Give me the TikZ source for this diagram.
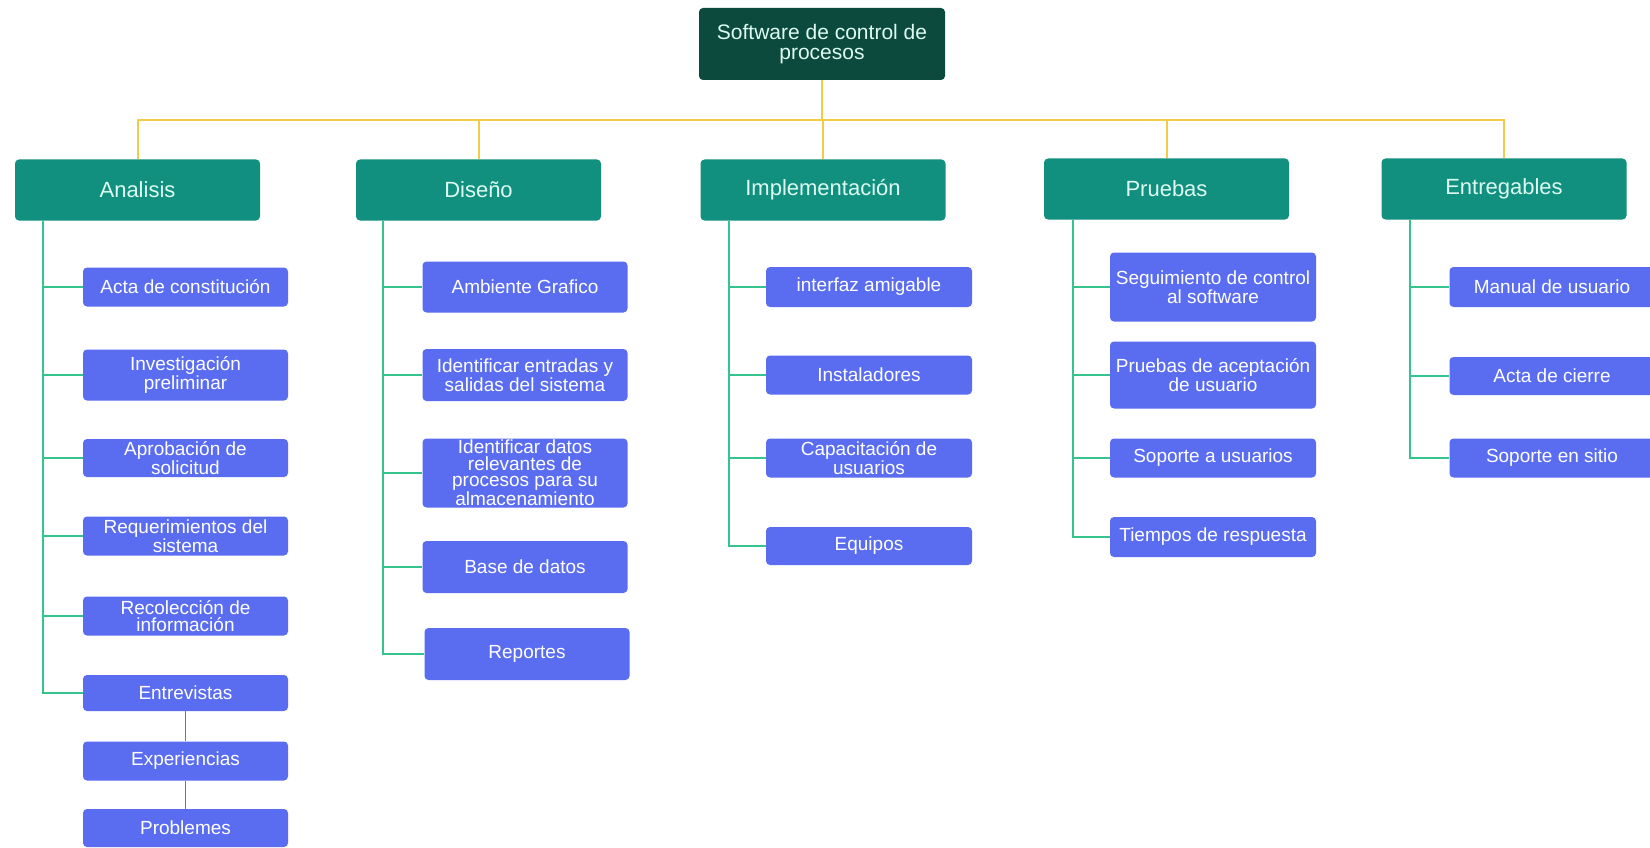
\documentclass[tikz,border=0pt]{standalone}
\usepackage{fontspec}
\setmainfont{Liberation Sans}
\usetikzlibrary{positioning}

\definecolor{raizfondo}{HTML}{0C4A3E}
\definecolor{fasefondo}{HTML}{11907F}
\definecolor{tareafondo}{HTML}{5A6DF1}
\definecolor{textoclaro}{HTML}{DDFBF1}
\definecolor{amarillo}{HTML}{F2CB47}
\definecolor{verdelinea}{HTML}{35C48E}
\definecolor{grislinea}{HTML}{6F7A88}

\begin{document}
\begin{tikzpicture}[x=1pt,y=-1pt,
  raiz/.style={fill=raizfondo,text=textoclaro,rounded corners=4pt,align=center,minimum width=246pt,minimum height=72pt,inner sep=1pt,font=\fontsize{21}{20}\selectfont},
  fase/.style={fill=fasefondo,text=textoclaro,rounded corners=4pt,align=center,minimum width=245pt,minimum height=61pt,inner sep=1pt,font=\fontsize{22}{21}\selectfont},
  tarea/.style={fill=tareafondo,text=white,rounded corners=4pt,align=center,minimum width=205pt,inner sep=1pt,font=\fontsize{19}{16.5}\selectfont},
  tronco/.style={draw=amarillo,line width=2pt},
  rama/.style={draw=verdelinea,line width=2pt},
  cadena/.style={draw=grislinea,line width=1.5pt}]
\path[use as bounding box,fill=white] (0,0) rectangle (1650,848);

\coordinate (bus) at (822,120);

% root and phases
\node[raiz] (raiz) at (822,44) {Software de control de\\procesos};
\node[fase] (ana) at (137.5,190) {Analisis};
\node[fase] (dis) at (478.5,190) {Diseño};
\node[fase] (imp) at (823,190) {Implementación};
\node[fase] (pru) at (1166.5,189) {Pruebas};
\node[fase] (ent) at (1504,189) {Entregables};

% Analisis
\node[tarea,minimum height=39pt] (a1) at (185.5,287) {Acta de constitución};
\node[tarea,minimum height=51pt] (a2) at (185.5,375) {Investigación\\preliminar};
\node[tarea,minimum height=38pt] (a3) at (185.5,458) {Aprobación de\\solicitud};
\node[tarea,minimum height=39pt] (a4) at (185.5,536) {Requerimientos del\\sistema};
\node[tarea,minimum height=39pt] (a5) at (185.5,616) {Recolección de\\información};
\node[tarea,minimum height=36pt] (a6) at (185.5,693) {Entrevistas};
\node[tarea,minimum height=39pt] (a7) at (185.5,761) {Experiencias};
\node[tarea,minimum height=38pt] (a8) at (185.5,828) {Problemes};

% Diseño
\node[tarea,minimum height=51pt] (d1) at (525,287) {Ambiente Grafico};
\node[tarea,minimum height=52pt] (d2) at (525,375) {Identificar entradas y\\salidas del sistema};
\node[tarea,minimum height=69pt] (d3) at (525,473) {Identificar datos\\relevantes de\\procesos para su\\almacenamiento};
\node[tarea,minimum height=52pt] (d4) at (525,567) {Base de datos};
\node[tarea,minimum height=52pt] (d5) at (527,654) {Reportes};

% Implementacion
\node[tarea,minimum width=206pt,minimum height=40pt] (i1) at (869,287) {interfaz amigable};
\node[tarea,minimum width=206pt,minimum height=39pt] (i2) at (869,375) {Instaladores};
\node[tarea,minimum width=206pt,minimum height=39pt] (i3) at (869,458) {Capacitación de\\usuarios};
\node[tarea,minimum width=206pt,minimum height=38pt] (i4) at (869,546) {Equipos};

% Pruebas
\node[tarea,minimum width=206pt,minimum height=69pt] (p1) at (1213,287) {Seguimiento de control\\al software};
\node[tarea,minimum width=206pt,minimum height=67pt] (p2) at (1213,375) {Pruebas de aceptación\\de usuario};
\node[tarea,minimum width=206pt,minimum height=39pt] (p3) at (1213,458) {Soporte a usuarios};
\node[tarea,minimum width=206pt,minimum height=40pt] (p4) at (1213,537) {Tiempos de respuesta};

% Entregables
\node[tarea,minimum height=40pt] (e1) at (1552,287) {Manual de usuario};
\node[tarea,minimum height=38pt] (e2) at (1552,376) {Acta de cierre};
\node[tarea,minimum height=39pt] (e3) at (1552,458) {Soporte en sitio};

% yellow trunk
\draw[tronco] (raiz.south) -- (bus);
\foreach \f in {ana,dis,imp,pru,ent}
  \draw[tronco] (\f.north) |- (bus);

% green branches
\coordinate (ca) at ([xshift=28pt]ana.south west);
\coordinate (cd) at ([xshift=27pt]dis.south west);
\coordinate (ci) at ([xshift=29pt]imp.south west);
\coordinate (cp) at ([xshift=29pt]pru.south west);
\coordinate (ce) at ([xshift=29pt]ent.south west);
\foreach \t in {a1,a2,a3,a4,a5,a6}
  \draw[rama] (ca) |- (\t.west);
\foreach \t in {d1,d2,d3,d4,d5}
  \draw[rama] (cd) |- (\t.west);
\foreach \t in {i1,i2,i3,i4}
  \draw[rama] (ci) |- (\t.west);
\foreach \t in {p1,p2,p3,p4}
  \draw[rama] (cp) |- (\t.west);
\foreach \t in {e1,e2,e3}
  \draw[rama] (ce) |- (\t.west);

% Entrevistas chain
\draw[cadena] (a6) -- (a7);
\draw[cadena] (a7) -- (a8);
\end{tikzpicture}
\end{document}
